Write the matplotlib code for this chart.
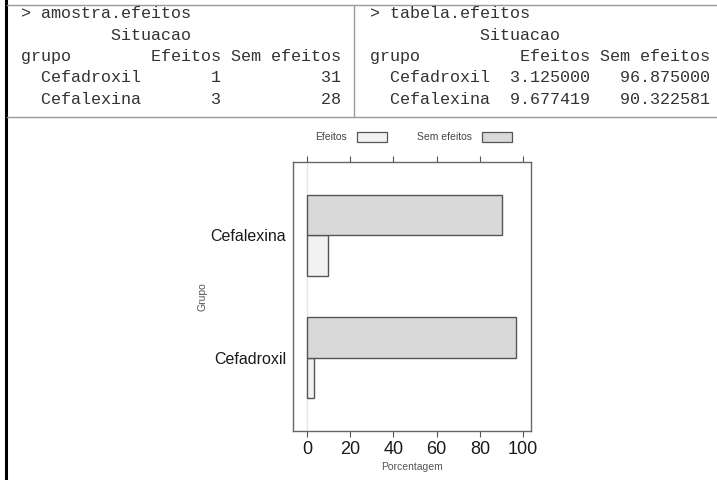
import matplotlib.pyplot as plt
from matplotlib.lines import Line2D
from matplotlib.patches import Rectangle

grupos = ['Cefadroxil', 'Cefalexina']
situacao = ['Efeitos', 'Sem efeitos']
n_efeitos = [1, 3]
n_sem = [31, 28]
pct_efeitos = [3.125000, 9.677419]
pct_sem = [96.875000, 90.322581]
xticks = [0, 20, 40, 60, 80, 100]
cores = ['#f2f2f2', '#d9d9d9']

W, H = 717, 480
fig = plt.figure(figsize=(W / 100, H / 100), dpi=100)

# fundo: "console" do R com as duas tabelas, em coordenadas de pixel
bg = fig.add_axes([0, 0, 1, 1])
bg.set_xlim(0, W)
bg.set_ylim(H, 0)
bg.axis('off')

bg.add_line(Line2D([6, 6], [0, H], color='black', lw=2.2))
for yy in (5, 117):
    bg.add_line(Line2D([7, W], [yy, yy], color='#9a9a9a', lw=1))
bg.add_line(Line2D([354, 354], [5, 117], color='#9a9a9a', lw=1))

linhas_esq = ['> amostra.efeitos',
              '         Situacao',
              'grupo        ' + situacao[0] + ' ' + situacao[1]]
for g, a, b in zip(grupos, n_efeitos, n_sem):
    linhas_esq.append('  %-10s %7d %11d' % (g, a, b))

linhas_dir = ['> tabela.efeitos',
              '           Situacao',
              'grupo          ' + situacao[0] + ' ' + situacao[1]]
for g, a, b in zip(grupos, pct_efeitos, pct_sem):
    linhas_dir.append('  %-10s %9.6f %11.6f' % (g, a, b))

ys = [13, 35, 56, 78, 99]
for yy, t in zip(ys, linhas_esq):
    bg.text(21, yy, t, family='Liberation Mono', fontsize=12.1, color='#333333',
            va='center', ha='left')
for yy, t in zip(ys, linhas_dir):
    bg.text(370, yy, t, family='Liberation Mono', fontsize=12.1, color='#333333',
            va='center', ha='left')

# legenda (estilo lattice)
bg.text(347, 137, situacao[0], fontsize=7.5, color='#444444', family='Liberation Sans',
        ha='right', va='center')
bg.add_patch(Rectangle((357, 132), 30, 10, facecolor=cores[0], edgecolor='#555555', lw=0.9))
bg.text(472, 137, situacao[1], fontsize=7.5, color='#444444', family='Liberation Sans',
        ha='right', va='center')
bg.add_patch(Rectangle((482, 132), 30, 10, facecolor=cores[1], edgecolor='#555555', lw=0.9))

# grafico de barras
L, R, T, B = 293, 531, 162, 431
ax = fig.add_axes([L / W, 1 - B / H, (R - L) / W, (B - T) / H])
pos = [1, 2]
h = 0.33
ax.barh([p - h / 2 for p in pos], pct_efeitos, height=h, color=cores[0],
        edgecolor='#555555', lw=1)
ax.barh([p + h / 2 for p in pos], pct_sem, height=h, color=cores[1],
        edgecolor='#555555', lw=1)
ax.axvline(0, color='#e6e6e6', lw=1, zorder=0)

ax.set_xlim(-6.5, 103.7)
ax.set_ylim(0.4, 2.6)
ax.set_xticks(xticks)
ax.set_yticks(pos)
ax.set_yticklabels(grupos, fontsize=11.5, family='Liberation Sans', color='#1a1a1a')
ax.tick_params(axis='x', which='both', direction='out', length=4, width=0.8,
               color='#555555', top=True, labeltop=False, labelsize=13, pad=3)
ax.tick_params(axis='y', length=0, pad=5)
for lbl in ax.get_xticklabels():
    lbl.set_family('Liberation Sans')
    lbl.set_color('#1a1a1a')
for s in ax.spines.values():
    s.set_color('#666666')
    s.set_linewidth(1)

bg.text(412, 467, 'Porcentagem', fontsize=7.5, color='#555555', family='Liberation Sans',
        ha='center', va='center')
bg.text(203, 297, 'Grupo', fontsize=7.5, color='#555555', family='Liberation Sans',
        ha='center', va='center', rotation=90)

fig.savefig('out.png', dpi=100)
